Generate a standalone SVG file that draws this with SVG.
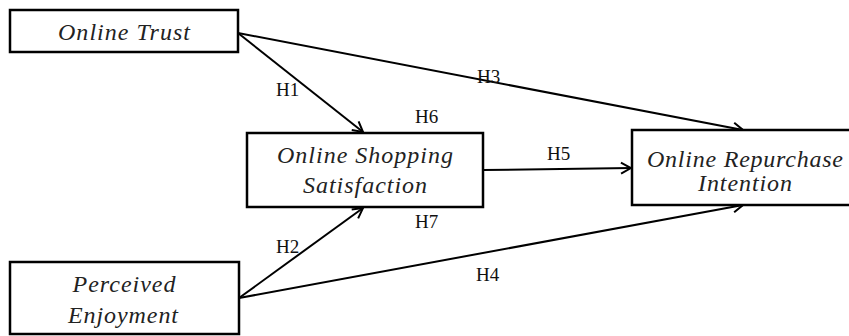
<svg xmlns="http://www.w3.org/2000/svg" width="849" height="336" viewBox="0 0 849 336">
<style>
.box{fill:#fff;stroke:#000;stroke-width:2.5}
.node{font-family:'Liberation Serif',serif;font-style:italic;font-size:24px;fill:#222;text-anchor:middle}
.lbl{font-family:'Liberation Serif',serif;font-size:19px;fill:#111}
.edge{stroke:#000;stroke-width:2;fill:none;marker-end:url(#arr)}
</style>
<defs>
<marker id="arr" markerUnits="userSpaceOnUse" markerWidth="14" markerHeight="14" viewBox="0 0 14 14" refX="13" refY="7" orient="auto">
<path d="M3,1.5 L13,7 L3,12.5" fill="none" stroke="#000" stroke-width="2"/>
</marker>
</defs>
<rect width="849" height="336" fill="#fff"/>
<g id="edges">
<line class="edge" x1="238" y1="33" x2="743" y2="130"/>
<line class="edge" x1="238" y1="33" x2="363" y2="132"/>
<line class="edge" x1="483" y1="170" x2="631" y2="168"/>
<line class="edge" x1="239" y1="298" x2="363" y2="208"/>
<line class="edge" x1="239" y1="298" x2="743" y2="205"/>
</g>
<g id="online-trust">
<rect class="box" x="10" y="10" width="228" height="42"/>
<text class="node" font-family="Liberation Serif" x="124" y="40" textLength="132" lengthAdjust="spacing">Online Trust</text>
</g>
<g id="satisfaction">
<rect class="box" x="247" y="133" width="236" height="74"/>
<text class="node" font-family="Liberation Serif" x="365" y="163" textLength="176" lengthAdjust="spacing">Online Shopping</text>
<text class="node" font-family="Liberation Serif" x="365" y="193" textLength="124" lengthAdjust="spacing">Satisfaction</text>
</g>
<g id="repurchase">
<rect class="box" x="632" y="130" width="230" height="75"/>
<text class="node" font-family="Liberation Serif" x="745" y="167" textLength="196" lengthAdjust="spacing">Online Repurchase</text>
<text class="node" font-family="Liberation Serif" x="745" y="191" textLength="94" lengthAdjust="spacing">Intention</text>
</g>
<g id="enjoyment">
<rect class="box" x="10" y="262" width="229" height="72"/>
<text class="node" font-family="Liberation Serif" x="124" y="292" textLength="103" lengthAdjust="spacing">Perceived</text>
<text class="node" font-family="Liberation Serif" x="123" y="323" textLength="110" lengthAdjust="spacing">Enjoyment</text>
</g>
<g id="labels">
<text class="lbl" font-family="Liberation Serif" x="276" y="96">H1</text>
<text class="lbl" font-family="Liberation Serif" x="477" y="83">H3</text>
<text class="lbl" font-family="Liberation Serif" x="415" y="123">H6</text>
<text class="lbl" font-family="Liberation Serif" x="547" y="160">H5</text>
<text class="lbl" font-family="Liberation Serif" x="415" y="228">H7</text>
<text class="lbl" font-family="Liberation Serif" x="276" y="253">H2</text>
<text class="lbl" font-family="Liberation Serif" x="476" y="281">H4</text>
</g>
</svg>
